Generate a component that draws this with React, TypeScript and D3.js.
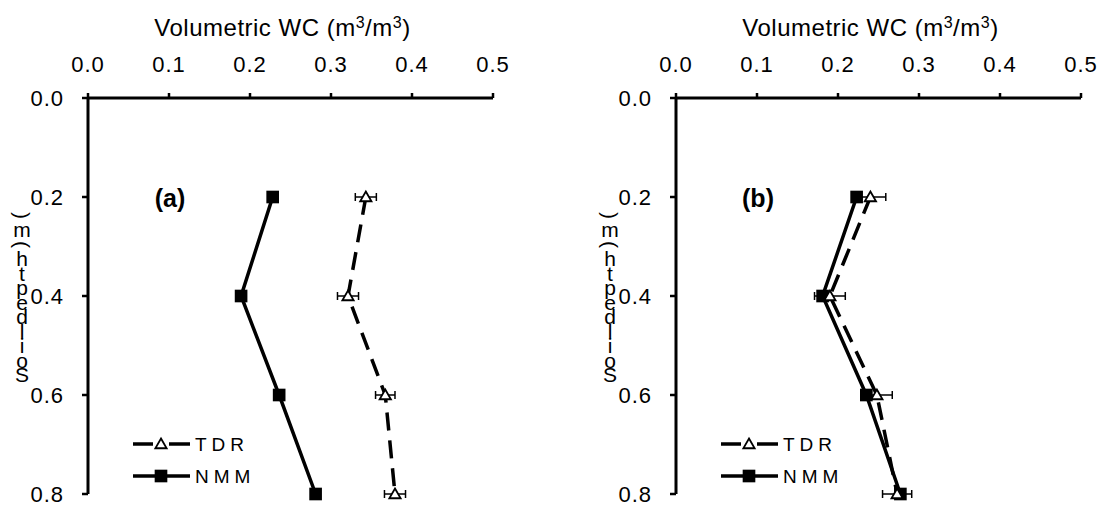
import React from 'react';
import * as d3 from 'd3';

// Depths (m) and volumetric water content readings
const depths = [0.2, 0.4, 0.6, 0.8];
const xTicks = [0.0, 0.1, 0.2, 0.3, 0.4, 0.5];
const yTicks = [0.0, 0.2, 0.4, 0.6, 0.8];

const tdrA = [0.343, 0.321, 0.367, 0.379];
const tdrErrA = [0.013, 0.013, 0.012, 0.013];
const nmmA = [0.228, 0.189, 0.236, 0.281];

const tdrB = [0.240, 0.190, 0.248, 0.273];
const tdrErrB = [0.019, 0.019, 0.019, 0.018];
const nmmB = [0.223, 0.181, 0.235, 0.277];

const yLabelChars = ['S', 'o', 'i', 'l', 'd', 'e', 'p', 't', 'h', '(', 'm', ')'];

const font = 'Liberation Sans, Arial, sans-serif';

type PanelProps = {
  left: number;
  right: number;
  label: string;
  tdr: number[];
  tdrErr: number[];
  nmm: number[];
};

const Panel = ({ left, right, label, tdr, tdrErr, nmm }: PanelProps) => {
  const top = 98;
  const bottom = 494;
  const x = d3.scaleLinear().domain([0, 0.5]).range([left, right]);
  const y = d3.scaleLinear().domain([0, 0.8]).range([top, bottom]);

  const tdrPts = depths.map((d, i) => ({ v: tdr[i], d, e: tdrErr[i] }));
  const nmmPts = depths.map((d, i) => ({ v: nmm[i], d }));

  const line = d3.line<{ v: number; d: number }>()
    .x(p => x(p.v))
    .y(p => y(p.d));

  const tri = d3.symbol().type(d3.symbolTriangle).size(55)();
  const sq = d3.symbol().type(d3.symbolSquare).size(160)();

  const legX = left + 45;
  const legY1 = 444;
  const legY2 = 476;

  return (
    <g>
      {/* title */}
      <text x={(left + right) / 2 - 8} y={36} textAnchor="middle" fontSize={24} fontFamily={font} letterSpacing={0.5}>
        Volumetric WC (m<tspan dy={-8} fontSize={16}>3</tspan><tspan dy={8}>/m</tspan>
        <tspan dy={-8} fontSize={16}>3</tspan><tspan dy={8}>)</tspan>
      </text>

      {/* x axis */}
      <line x1={left} x2={right} y1={top} y2={top} stroke="#000" strokeWidth={3} />
      {xTicks.map(t => (
        <g key={'x' + t}>
          <line x1={x(t)} x2={x(t)} y1={top} y2={top - 5} stroke="#000" strokeWidth={2.5} />
          <text x={x(t)} y={72} textAnchor="middle" fontSize={22} letterSpacing={1} fontFamily={font}>{t.toFixed(1)}</text>
        </g>
      ))}

      {/* y axis */}
      <line x1={left} x2={left} y1={top} y2={bottom} stroke="#000" strokeWidth={3} />
      {yTicks.map(t => (
        <g key={'y' + t}>
          <line x1={left} x2={left - 6} y1={y(t)} y2={y(t)} stroke="#000" strokeWidth={2.5} />
          <text x={left - 24} y={y(t) + 8} textAnchor="end" fontSize={22} letterSpacing={1} fontFamily={font}>{t.toFixed(1)}</text>
        </g>
      ))}

      {/* garbled y label */}
      {yLabelChars.map((c, i) => {
        const cy = 382 - i * 14.5;
        const cx = left - 66;
        const rot = c === '(' || c === ')' ? 90 : 0;
        return (
          <text key={'c' + i} x={cx} y={cy} textAnchor="middle" fontSize={21} fontFamily={font}
            transform={`rotate(${rot},${cx},${cy - 7})`}>{c}</text>
        );
      })}

      <text x={left + 82} y={top + 109} textAnchor="middle" fontSize={25} fontWeight="bold" fontFamily={font}>
        {label}
      </text>

      {/* TDR: dashed with error bars */}
      <path d={line(tdrPts) || ''} fill="none" stroke="#000" strokeWidth={3.5} strokeDasharray="18,10" />
      {tdrPts.map((p, i) => (
        <g key={'e' + i} stroke="#000" strokeWidth={1.5}>
          <line x1={x(p.v - p.e)} x2={x(p.v + p.e)} y1={y(p.d)} y2={y(p.d)} />
          <line x1={x(p.v - p.e)} x2={x(p.v - p.e)} y1={y(p.d) - 4} y2={y(p.d) + 4} />
          <line x1={x(p.v + p.e)} x2={x(p.v + p.e)} y1={y(p.d) - 4} y2={y(p.d) + 4} />
        </g>
      ))}

      {/* NMM: solid */}
      <path d={line(nmmPts) || ''} fill="none" stroke="#000" strokeWidth={3.5} />
      {nmmPts.map((p, i) => (
        <path key={'s' + i} d={sq || ''} transform={`translate(${x(p.v)},${y(p.d)})`} fill="#000" />
      ))}
      {tdrPts.map((p, i) => (
        <path key={'t' + i} d={tri || ''} transform={`translate(${x(p.v)},${y(p.d) + 1})`}
          fill="#fff" stroke="#000" strokeWidth={1.8} />
      ))}

      {/* legend */}
      <line x1={legX} x2={legX + 20} y1={legY1} y2={legY1} stroke="#000" strokeWidth={3.5} />
      <line x1={legX + 36} x2={legX + 57} y1={legY1} y2={legY1} stroke="#000" strokeWidth={3.5} />
      <path d={tri || ''} transform={`translate(${legX + 28},${legY1 + 1})`} fill="#fff" stroke="#000" strokeWidth={1.8} />
      <text x={legX + 62} y={legY1 + 7} fontSize={19} fontFamily={font} letterSpacing={5}>TDR</text>
      <line x1={legX} x2={legX + 57} y1={legY2} y2={legY2} stroke="#000" strokeWidth={3.5} />
      <path d={sq || ''} transform={`translate(${legX + 28},${legY2})`} fill="#000" />
      <text x={legX + 62} y={legY2 + 7} fontSize={19} fontFamily={font} letterSpacing={5}>NMM</text>
    </g>
  );
};

const App = () => (
  <svg width={1107} height={510} style={{ position: 'absolute', left: 0, top: 0, background: '#fff' }}>
    <rect width={1107} height={510} fill="#fff" />
    <Panel left={88} right={493} label="(a)" tdr={tdrA} tdrErr={tdrErrA} nmm={nmmA} />
    <Panel left={676} right={1081} label="(b)" tdr={tdrB} tdrErr={tdrErrB} nmm={nmmB} />
  </svg>
);

export default App;
